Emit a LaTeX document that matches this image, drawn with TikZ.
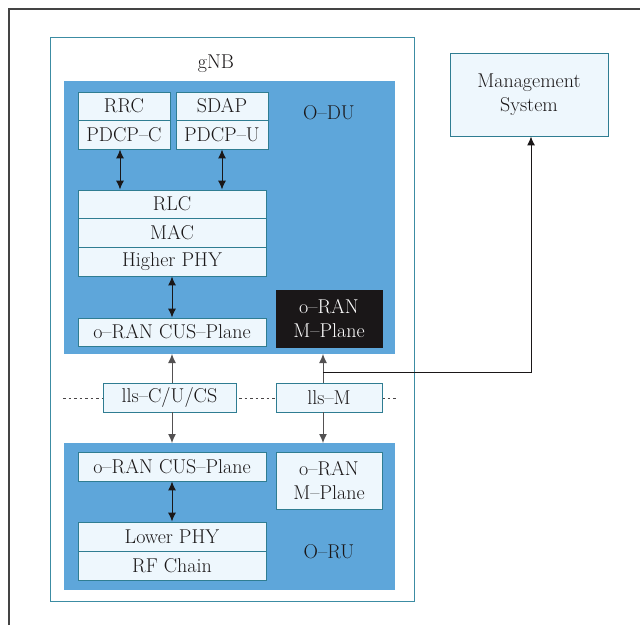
\documentclass[tikz,border=0pt]{standalone}
\usetikzlibrary{arrows.meta}
\definecolor{rim}{HTML}{2F7D92}
\definecolor{gnbrim}{HTML}{3C8CA3}
\definecolor{unitblue}{HTML}{5EA6DA}
\definecolor{cellfill}{HTML}{EEF7FD}
\definecolor{ink}{HTML}{1A1718}
\definecolor{frame}{HTML}{444444}
\tikzset{
  txt/.style={font=\fontsize{20}{24}\selectfont, text=ink},
  cell/.style={txt, draw=rim, line width=0.9pt, fill=cellfill, inner sep=0pt, align=center},
  darkcell/.style={cell, fill=ink, text=white, draw=ink},
  unit/.style={fill=unitblue, draw=none},
  tip/.style={-{Latex[length=9pt,width=8pt]}},
  dbl/.style={{Latex[length=9pt,width=8pt]}-{Latex[length=9pt,width=8pt]}, line width=1pt, draw=ink},
  feed/.style={tip, line width=1pt, draw=ink!75},
  mgmt/.style={tip, line width=1pt, draw=ink},
}
\begin{document}
\begin{tikzpicture}[x=1pt, y=-1pt]
\useasboundingbox (0,0) rectangle (640,625);
% page frame
\draw[frame, line width=1.2pt] (9,625) -- (9,9) -- (640,9);
% gNB enclosure
\draw[gnbrim, line width=1pt] (50,37) rectangle (414,601);
\node[txt] (gnb) at (216,64) {gNB};
% O-DU and O-RU areas
\fill[unit] (64,81) rectangle (395,354);
\fill[unit] (64,443) rectangle (395,590);
\node[txt] (odu) at (329,113) {O--DU};
\node[txt] (oru) at (329,552) {O--RU};
% separation line between O-DU and O-RU
\draw[ink!80, dash pattern=on 2.5pt off 3pt, line width=0.8pt] (63,398) -- (398,398);

% O-DU stack
\node[cell, minimum width=92pt, minimum height=28pt] (rrc) at (124,106) {RRC};
\node[cell, minimum width=92pt, minimum height=29pt] (pdcpc) at (124,134.5) {PDCP--C};
\node[cell, minimum width=92pt, minimum height=28pt] (sdap) at (222,106) {SDAP};
\node[cell, minimum width=92pt, minimum height=29pt] (pdcpu) at (222,134.5) {PDCP--U};
\node[cell, minimum width=188pt, minimum height=28pt] (rlc) at (172,204) {RLC};
\node[cell, minimum width=188pt, minimum height=29pt] (mac) at (172,232.5) {MAC};
\node[cell, minimum width=188pt, minimum height=29pt] (hphy) at (172,261.5) {Higher PHY};
\node[cell, minimum width=188pt, minimum height=28pt] (dcus) at (172,332) {o--RAN CUS--Plane};
\node[darkcell, minimum width=106pt, minimum height=57pt] (dm) at (329,318.5) {o--RAN\\M--Plane};

% fronthaul interfaces
\node[cell, minimum width=133pt, minimum height=29pt] (llsc) at (169.5,397.5) {lls--C/U/CS};
\node[cell, minimum width=106pt, minimum height=29pt] (llsm) at (329,397.5) {lls--M};

% O-RU stack
\node[cell, minimum width=188pt, minimum height=29pt] (rcus) at (172,466.5) {o--RAN CUS--Plane};
\node[cell, minimum width=106pt, minimum height=57pt] (rm) at (329,480.5) {o--RAN\\M--Plane};
\node[cell, minimum width=188pt, minimum height=29pt] (lphy) at (172,536.5) {Lower PHY};
\node[cell, minimum width=188pt, minimum height=29pt] (rf) at (172,565.5) {RF Chain};

% management system
\node[cell, minimum width=158pt, minimum height=83pt] (ms) at (529,94.5) {Management\\System};

% links inside O-DU
\draw[dbl] ([xshift=-4pt]pdcpc.south) -- ([xshift=-4pt]pdcpc.south |- rlc.north);
\draw[dbl] (pdcpu.south) -- (pdcpu.south |- rlc.north);
\draw[dbl] (hphy.south) -- (dcus.north);
% links inside O-RU
\draw[dbl] (rcus.south) -- (lphy.north);

% fronthaul links
\coordinate (cx) at (172,354);
\coordinate (mx) at (323,354);
\draw[feed] (llsc.north -| cx) -- (cx);
\draw[feed] (llsc.south -| cx) -- (cx |- 0,443);
\draw[feed] (llsm.north -| mx) -- (mx);
\draw[feed] (llsm.south -| mx) -- (mx |- 0,443);

% M-plane to management system
\coordinate (tap) at (323,372);
\coordinate (turn) at (531,372);
\draw[mgmt] (tap) -- (turn) -- (turn |- ms.south);
\end{tikzpicture}
\end{document}
